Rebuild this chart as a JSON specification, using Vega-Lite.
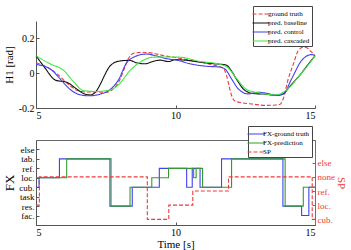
{
  "$schema": "https://vega.github.io/schema/vega-lite/v6.json",
  "padding": {"left": 3, "top": 5, "right": 2, "bottom": 2},
  "config": {
    "font": "Liberation Serif",
    "view": {"stroke": null},
    "axis": {"labelFont": "Liberation Serif", "titleFont": "Liberation Serif", "labelFontSize": 10, "titleFontSize": 11, "titleFontWeight": "normal", "labelColor": "#000", "titleColor": "#000", "domainColor": "#555", "tickColor": "#555", "grid": false, "tickSize": -3, "labelPadding": 5},
    "legend": {"labelFont": "Liberation Serif", "labelFontSize": 7, "labelColor": "#000"}
  },
  "datasets": {
    "h1": [
      {"s": "ground truth", "t": 5.0, "v": 0.06},
      {"s": "ground truth", "t": 5.4, "v": 0.035},
      {"s": "ground truth", "t": 5.8, "v": -0.01},
      {"s": "ground truth", "t": 6.2, "v": -0.07},
      {"s": "ground truth", "t": 6.5, "v": -0.1},
      {"s": "ground truth", "t": 6.8, "v": -0.108},
      {"s": "ground truth", "t": 7.2, "v": -0.108},
      {"s": "ground truth", "t": 7.5, "v": -0.11},
      {"s": "ground truth", "t": 7.8, "v": -0.085},
      {"s": "ground truth", "t": 8.0, "v": -0.04},
      {"s": "ground truth", "t": 8.15, "v": 0.02},
      {"s": "ground truth", "t": 8.3, "v": 0.08},
      {"s": "ground truth", "t": 8.5, "v": 0.115},
      {"s": "ground truth", "t": 8.8, "v": 0.12},
      {"s": "ground truth", "t": 9.2, "v": 0.115},
      {"s": "ground truth", "t": 9.6, "v": 0.1},
      {"s": "ground truth", "t": 10.0, "v": 0.09},
      {"s": "ground truth", "t": 10.5, "v": 0.075},
      {"s": "ground truth", "t": 11.0, "v": 0.06},
      {"s": "ground truth", "t": 11.4, "v": 0.045},
      {"s": "ground truth", "t": 11.7, "v": 0.03},
      {"s": "ground truth", "t": 11.83, "v": -0.013},
      {"s": "ground truth", "t": 11.93, "v": -0.08},
      {"s": "ground truth", "t": 12.01, "v": -0.128},
      {"s": "ground truth", "t": 12.13, "v": -0.16},
      {"s": "ground truth", "t": 12.37, "v": -0.17},
      {"s": "ground truth", "t": 12.8, "v": -0.178},
      {"s": "ground truth", "t": 13.2, "v": -0.185},
      {"s": "ground truth", "t": 13.6, "v": -0.183},
      {"s": "ground truth", "t": 13.75, "v": -0.178},
      {"s": "ground truth", "t": 13.86, "v": -0.148},
      {"s": "ground truth", "t": 14.04, "v": -0.033},
      {"s": "ground truth", "t": 14.22, "v": 0.05},
      {"s": "ground truth", "t": 14.4, "v": 0.13},
      {"s": "ground truth", "t": 14.58, "v": 0.15},
      {"s": "ground truth", "t": 14.72, "v": 0.145},
      {"s": "ground truth", "t": 14.85, "v": 0.125},
      {"s": "ground truth", "t": 15.0, "v": 0.1},
      {"s": "pred. baseline", "t": 5.0, "v": 0.1},
      {"s": "pred. baseline", "t": 5.3, "v": 0.035},
      {"s": "pred. baseline", "t": 5.7, "v": -0.04},
      {"s": "pred. baseline", "t": 6.1, "v": -0.052},
      {"s": "pred. baseline", "t": 6.45, "v": -0.09},
      {"s": "pred. baseline", "t": 6.75, "v": -0.12},
      {"s": "pred. baseline", "t": 6.95, "v": -0.125},
      {"s": "pred. baseline", "t": 7.15, "v": -0.105},
      {"s": "pred. baseline", "t": 7.3, "v": -0.065},
      {"s": "pred. baseline", "t": 7.45, "v": -0.015},
      {"s": "pred. baseline", "t": 7.6, "v": 0.03},
      {"s": "pred. baseline", "t": 7.75, "v": 0.055},
      {"s": "pred. baseline", "t": 8.0, "v": 0.07},
      {"s": "pred. baseline", "t": 8.35, "v": 0.074},
      {"s": "pred. baseline", "t": 8.6, "v": 0.06},
      {"s": "pred. baseline", "t": 8.9, "v": 0.054},
      {"s": "pred. baseline", "t": 9.2, "v": 0.068},
      {"s": "pred. baseline", "t": 9.45, "v": 0.075},
      {"s": "pred. baseline", "t": 9.75, "v": 0.067},
      {"s": "pred. baseline", "t": 10.0, "v": 0.078},
      {"s": "pred. baseline", "t": 10.4, "v": 0.074},
      {"s": "pred. baseline", "t": 10.9, "v": 0.063},
      {"s": "pred. baseline", "t": 11.4, "v": 0.054},
      {"s": "pred. baseline", "t": 11.8, "v": 0.048},
      {"s": "pred. baseline", "t": 12.0, "v": 0.015},
      {"s": "pred. baseline", "t": 12.15, "v": -0.025},
      {"s": "pred. baseline", "t": 12.5, "v": -0.1},
      {"s": "pred. baseline", "t": 12.85, "v": -0.118},
      {"s": "pred. baseline", "t": 13.2, "v": -0.12},
      {"s": "pred. baseline", "t": 13.6, "v": -0.128},
      {"s": "pred. baseline", "t": 13.85, "v": -0.12},
      {"s": "pred. baseline", "t": 14.1, "v": -0.075},
      {"s": "pred. baseline", "t": 14.45, "v": -0.012},
      {"s": "pred. baseline", "t": 14.8, "v": 0.06},
      {"s": "pred. baseline", "t": 15.0, "v": 0.1},
      {"s": "pred. control", "t": 5.0, "v": 0.05},
      {"s": "pred. control", "t": 5.5, "v": 0.025},
      {"s": "pred. control", "t": 5.85, "v": -0.03},
      {"s": "pred. control", "t": 6.2, "v": -0.09},
      {"s": "pred. control", "t": 6.55, "v": -0.123},
      {"s": "pred. control", "t": 6.9, "v": -0.13},
      {"s": "pred. control", "t": 7.3, "v": -0.12},
      {"s": "pred. control", "t": 7.65, "v": -0.095},
      {"s": "pred. control", "t": 7.95, "v": -0.04},
      {"s": "pred. control", "t": 8.25, "v": 0.06},
      {"s": "pred. control", "t": 8.5, "v": 0.092},
      {"s": "pred. control", "t": 8.95, "v": 0.11},
      {"s": "pred. control", "t": 9.3, "v": 0.1},
      {"s": "pred. control", "t": 9.7, "v": 0.083},
      {"s": "pred. control", "t": 10.05, "v": 0.075},
      {"s": "pred. control", "t": 10.5, "v": 0.055},
      {"s": "pred. control", "t": 11.1, "v": 0.04},
      {"s": "pred. control", "t": 11.6, "v": 0.035},
      {"s": "pred. control", "t": 11.8, "v": 0.02},
      {"s": "pred. control", "t": 12.01, "v": -0.033},
      {"s": "pred. control", "t": 12.25, "v": -0.09},
      {"s": "pred. control", "t": 12.61, "v": -0.119},
      {"s": "pred. control", "t": 12.96, "v": -0.11},
      {"s": "pred. control", "t": 13.25, "v": -0.115},
      {"s": "pred. control", "t": 13.57, "v": -0.125},
      {"s": "pred. control", "t": 13.86, "v": -0.12},
      {"s": "pred. control", "t": 14.16, "v": -0.033},
      {"s": "pred. control", "t": 14.52, "v": 0.073},
      {"s": "pred. control", "t": 14.8, "v": 0.105},
      {"s": "pred. control", "t": 14.9, "v": 0.107},
      {"s": "pred. control", "t": 15.0, "v": 0.1},
      {"s": "pred. cascaded", "t": 5.0, "v": 0.1},
      {"s": "pred. cascaded", "t": 5.5, "v": 0.054},
      {"s": "pred. cascaded", "t": 6.0, "v": 0.015},
      {"s": "pred. cascaded", "t": 6.35, "v": -0.05},
      {"s": "pred. cascaded", "t": 6.7, "v": -0.1},
      {"s": "pred. cascaded", "t": 7.15, "v": -0.105},
      {"s": "pred. cascaded", "t": 7.65, "v": -0.096},
      {"s": "pred. cascaded", "t": 8.0, "v": -0.06},
      {"s": "pred. cascaded", "t": 8.35, "v": 0.012},
      {"s": "pred. cascaded", "t": 8.7, "v": 0.06},
      {"s": "pred. cascaded", "t": 9.2, "v": 0.092},
      {"s": "pred. cascaded", "t": 9.7, "v": 0.093},
      {"s": "pred. cascaded", "t": 10.15, "v": 0.092},
      {"s": "pred. cascaded", "t": 10.9, "v": 0.067},
      {"s": "pred. cascaded", "t": 11.5, "v": 0.054},
      {"s": "pred. cascaded", "t": 11.85, "v": 0.035},
      {"s": "pred. cascaded", "t": 12.2, "v": -0.033},
      {"s": "pred. cascaded", "t": 12.55, "v": -0.094},
      {"s": "pred. cascaded", "t": 13.0, "v": -0.113},
      {"s": "pred. cascaded", "t": 13.6, "v": -0.125},
      {"s": "pred. cascaded", "t": 13.95, "v": -0.1},
      {"s": "pred. cascaded", "t": 14.45, "v": -0.013},
      {"s": "pred. cascaded", "t": 15.0, "v": 0.098}
    ],
    "fx": [
      {"s": "FX-ground truth", "t": 5.0, "level": "cub."},
      {"s": "FX-ground truth", "t": 5.11, "level": "loc."},
      {"s": "FX-ground truth", "t": 5.84, "level": "tab."},
      {"s": "FX-ground truth", "t": 7.65, "level": "res."},
      {"s": "FX-ground truth", "t": 8.45, "level": "cub."},
      {"s": "FX-ground truth", "t": 9.42, "level": "ref."},
      {"s": "FX-ground truth", "t": 10.4, "level": "cub."},
      {"s": "FX-ground truth", "t": 10.6, "level": "ref."},
      {"s": "FX-ground truth", "t": 10.88, "level": "cub."},
      {"s": "FX-ground truth", "t": 11.65, "level": "tab."},
      {"s": "FX-ground truth", "t": 13.85, "level": "res."},
      {"s": "FX-ground truth", "t": 14.52, "level": "fac."},
      {"s": "FX-ground truth", "t": 14.78, "level": "cub."},
      {"s": "FX-ground truth", "t": 15.0, "level": "cub."},
      {"s": "FX-prediction", "t": 5.0, "level": "loc."},
      {"s": "FX-prediction", "t": 6.1, "level": "tab."},
      {"s": "FX-prediction", "t": 7.69, "level": "res."},
      {"s": "FX-prediction", "t": 8.37, "level": "cub."},
      {"s": "FX-prediction", "t": 9.15, "level": "loc."},
      {"s": "FX-prediction", "t": 9.75, "level": "ref."},
      {"s": "FX-prediction", "t": 10.65, "level": "loc."},
      {"s": "FX-prediction", "t": 10.74, "level": "ref."},
      {"s": "FX-prediction", "t": 10.97, "level": "cub."},
      {"s": "FX-prediction", "t": 12.01, "level": "tab."},
      {"s": "FX-prediction", "t": 13.93, "level": "res."},
      {"s": "FX-prediction", "t": 14.58, "level": "cub."},
      {"s": "FX-prediction", "t": 15.0, "level": "cub."}
    ],
    "sp": [
      {"s": "SP", "t": 5.0, "level": "loc."},
      {"s": "SP", "t": 5.12, "level": "none"},
      {"s": "SP", "t": 8.99, "level": "cub."},
      {"s": "SP", "t": 9.76, "level": "loc."},
      {"s": "SP", "t": 10.62, "level": "ref."},
      {"s": "SP", "t": 11.9, "level": "none"},
      {"s": "SP", "t": 14.9, "level": "cub."},
      {"s": "SP", "t": 15.0, "level": "cub."}
    ]
  },
  "vconcat": [
    {
      "width": 279,
      "height": 87,
      "data": {"name": "h1"},
      "mark": {"type": "line", "interpolate": "monotone", "strokeWidth": 1.1},
      "encoding": {
        "x": {"field": "t", "type": "quantitative", "scale": {"domain": [5, 15], "nice": false}, "axis": {"values": [5, 10, 15], "title": null}},
        "y": {"field": "v", "type": "quantitative", "scale": {"domain": [-0.2, 0.3], "nice": false, "zero": false}, "axis": {"values": [-0.2, 0, 0.2], "title": "H1 [rad]", "labelExpr": "toString(datum.value)", "titlePadding": 4}},
        "color": {"field": "s", "type": "nominal", "scale": {"domain": ["ground truth", "pred. baseline", "pred. control", "pred. cascaded"], "range": ["#ee3a3a", "#111111", "#4040ee", "#40e840"]},
          "legend": {"orient": "none", "legendX": 217, "legendY": -15, "title": null, "fillColor": "white", "strokeColor": "#444", "padding": 2, "symbolType": "M-1.7,0H1.7", "symbolSize": 100, "symbolStrokeWidth": 1.2, "rowPadding": -1, "labelOffset": 1}},
        "strokeDash": {"field": "s", "type": "nominal", "scale": {"domain": ["ground truth", "pred. baseline", "pred. control", "pred. cascaded"], "range": [[4, 2], [1, 0], [1, 0], [1, 0]]},
          "legend": {"orient": "none", "legendX": 217, "legendY": -15, "title": null, "fillColor": "white", "strokeColor": "#444", "padding": 2, "symbolType": "M-1.7,0H1.7", "symbolSize": 100, "symbolStrokeWidth": 1.2, "rowPadding": -1, "labelOffset": 1}}
      }
    },
    {
      "width": 279,
      "height": 85,
      "view": {"stroke": "#666"},
      "encoding": {
        "x": {"field": "t", "type": "quantitative", "scale": {"domain": [5, 15], "nice": false}, "axis": {"values": [5, 10, 15], "title": "Time [s]", "titlePadding": 1}},
        "order": {"field": "t", "type": "quantitative"},
        "color": {"field": "s", "type": "nominal", "scale": {"domain": ["FX-ground truth", "FX-prediction", "SP"], "range": ["#4040ee", "#339933", "#ee3a3a"]},
          "legend": {"orient": "none", "legendX": 212, "legendY": -14, "title": null, "fillColor": "white", "strokeColor": "#444", "padding": 2, "symbolType": "M-1.7,0H1.7", "symbolSize": 100, "symbolStrokeWidth": 1.2, "rowPadding": -1, "labelOffset": 1}},
        "strokeDash": {"field": "s", "type": "nominal", "scale": {"domain": ["FX-ground truth", "FX-prediction", "SP"], "range": [[1, 0], [1, 0], [4, 2]]},
          "legend": {"orient": "none", "legendX": 212, "legendY": -14, "title": null, "fillColor": "white", "strokeColor": "#444", "padding": 2, "symbolType": "M-1.7,0H1.7", "symbolSize": 100, "symbolStrokeWidth": 1.2, "rowPadding": -1, "labelOffset": 1}}
      },
      "layer": [
        {
          "data": {"name": "fx"},
          "mark": {"type": "line", "interpolate": "step-after", "strokeWidth": 1.1},
          "encoding": {
            "y": {"field": "level", "type": "ordinal", "scale": {"type": "point", "domain": ["else", "tab.", "ref.", "loc.", "cub.", "task", "res.", "fac."], "padding": 1}, "axis": {"title": "FX", "titleFontSize": 13, "labelFontSize": 9, "labelOverlap": false, "titlePadding": 2}}
          }
        },
        {
          "data": {"name": "sp"},
          "mark": {"type": "line", "interpolate": "step-after", "strokeWidth": 1.1},
          "encoding": {
            "y": {"field": "level", "type": "ordinal", "scale": {"type": "point", "domain": ["else", "none", "ref.", "loc.", "cub."], "padding": 2.5, "align": 0.8}, "axis": {"orient": "right", "title": "SP", "titleFontSize": 11, "labelFontSize": 9, "labelOverlap": false, "labelColor": "#ee3a3a", "titleColor": "#ee3a3a", "domainColor": "#ee3a3a", "tickColor": "#ee3a3a", "titlePadding": 1}}
          }
        }
      ],
      "resolve": {"scale": {"y": "independent"}}
    }
  ],
  "spacing": 5,
  "resolve": {"scale": {"color": "independent", "strokeDash": "independent"}}
}
